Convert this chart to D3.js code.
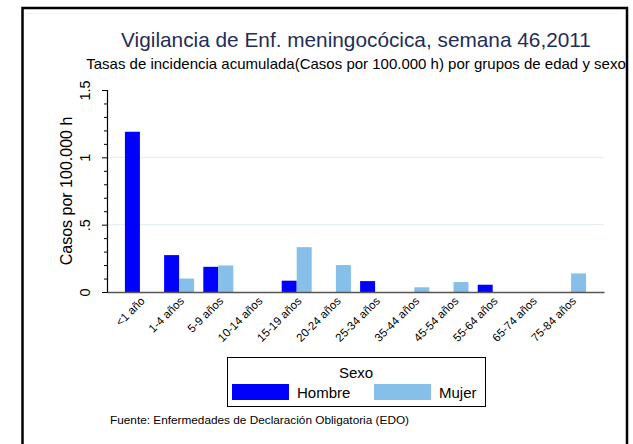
<!DOCTYPE html>
<html>
<head>
<meta charset="utf-8">
<script src="https://cdn.jsdelivr.net/npm/d3@7"></script>
<style>
  body { margin: 0; background: #fff; }
  text { font-family: "Liberation Sans", Arial, sans-serif; }
</style>
</head>
<body>
<div id="chart"></div>
<script>
// age groups and rates (cases per 100.000 h)
const grupos = ['<1 año', '1-4 años', '5-9 años', '10-14 años', '15-19 años', '20-24 años',
  '25-34 años', '35-44 años', '45-54 años', '55-64 años', '65-74 años', '75-84 años'];
const sexos = ['Hombre', 'Mujer'];
const hombre = [1.19, 0.274, 0.187, 0, 0.084, 0, 0.081, 0, 0, 0.054, 0, 0];
const mujer = [0, 0.10, 0.197, 0, 0.333, 0.20, 0, 0.035, 0.074, 0, 0, 0.138];
const yTicks = [0, 0.5, 1, 1.5];
const yTickLabels = ['0', '.5', '1', '1.5'];
const colores = { Hombre: '#0000ff', Mujer: '#86c0ea' };

const W = 633, H = 444;
const margin = { top: 90, right: 29, bottom: 152, left: 107 };
const width = W - margin.left - margin.right;
const height = H - margin.top - margin.bottom;

const svg = d3.select('#chart').append('svg')
  .attr('width', W)
  .attr('height', H);

// outer frame (bottom edge falls outside the picture)
svg.append('rect')
  .attr('x', 22.5).attr('y', 8)
  .attr('width', 604.5).attr('height', 450)
  .attr('fill', 'none').attr('stroke', '#000').attr('stroke-width', 2.5);
svg.append('line')
  .attr('x1', 27).attr('x2', 618).attr('y1', 13.5).attr('y2', 13.5)
  .attr('stroke', '#eef2f4').attr('stroke-width', 1);

svg.append('text')
  .attr('x', 356).attr('y', 47)
  .attr('text-anchor', 'middle')
  .attr('fill', '#1f2d57')
  .style('font-size', '20.8px')
  .text('Vigilancia de Enf. meningocócica, semana 46,2011');

svg.append('text')
  .attr('x', 356).attr('y', 69)
  .attr('text-anchor', 'middle')
  .attr('fill', '#000')
  .style('font-size', '15px')
  .text('Tasas de incidencia acumulada(Casos por 100.000 h) por grupos de edad y sexo');

const g = svg.append('g')
  .attr('transform', 'translate(' + margin.left + ',' + margin.top + ')');

const x0 = d3.scaleBand().domain(grupos).range([0, width])
  .paddingInner(0.235).paddingOuter(0.457);
const x1 = d3.scaleBand().domain(sexos).range([0, x0.bandwidth()]);
const y = d3.scaleLinear().domain([0, 1.5]).range([height, 0]);

// grid lines
g.selectAll('.grid')
  .data([0.5, 1])
  .enter().append('line')
  .attr('x1', 0).attr('x2', width)
  .attr('y1', d => y(d)).attr('y2', d => y(d))
  .attr('stroke', '#e6eff3').attr('stroke-width', 1.2);

// y axis: major and minor ticks
const yAxis = g.append('g')
  .call(d3.axisLeft(y).tickValues(yTicks).tickSize(5)
    .tickFormat((d, i) => yTickLabels[i]));
yAxis.select('.domain').attr('stroke', '#000').attr('stroke-width', 1.2);
yAxis.selectAll('.tick line').attr('stroke', '#000');
yAxis.selectAll('.tick text')
  .attr('transform', 'rotate(-90)')
  .attr('x', 0).attr('y', -17).attr('dy', 0)
  .attr('text-anchor', 'middle')
  .style('font-size', '14.5px').attr('fill', '#000');
g.append('g')
  .call(d3.axisLeft(y).tickValues(d3.range(0, 15).map(i => i / 10)
    .filter(v => Math.round(v * 10) % 5 !== 0)).tickSize(3).tickFormat(''))
  .call(a => a.select('.domain').remove())
  .selectAll('.tick line').attr('stroke', '#000');

svg.append('text')
  .attr('transform', 'translate(72,' + (margin.top + height / 2) + ') rotate(-90)')
  .attr('text-anchor', 'middle')
  .style('font-size', '16px')
  .text('Casos por 100.000 h');

// bars
const filas = grupos.map((gr, i) => ({ grupo: gr, Hombre: hombre[i], Mujer: mujer[i] }));
const grp = g.selectAll('.grupo')
  .data(filas)
  .enter().append('g')
  .attr('transform', d => 'translate(' + x0(d.grupo) + ',0)');
grp.selectAll('rect')
  .data(d => sexos.map(s => ({ sexo: s, valor: d[s] })).filter(e => e.valor > 0))
  .enter().append('rect')
  .attr('x', d => x1(d.sexo))
  .attr('y', d => y(d.valor))
  .attr('width', x1.bandwidth())
  .attr('height', d => y(0) - y(d.valor))
  .attr('fill', d => colores[d.sexo]);

// x axis
const xAxis = g.append('g')
  .attr('transform', 'translate(0,' + height + ')')
  .call(d3.axisBottom(x0).tickSize(0));
xAxis.select('.domain').attr('stroke', '#555').attr('stroke-width', 1.6);
xAxis.selectAll('.tick text')
  .attr('text-anchor', 'end')
  .attr('transform', 'translate(0,4) rotate(-45)')
  .attr('x', 0).attr('y', 0).attr('dy', '0.7em')
  .style('font-size', '11.5px').attr('fill', '#000');

// legend
const leg = svg.append('g');
leg.append('rect')
  .attr('x', 227.5).attr('y', 357.5).attr('width', 258).attr('height', 49)
  .attr('fill', '#fff').attr('stroke', '#000').attr('stroke-width', 1);
leg.append('text')
  .attr('x', 356).attr('y', 378)
  .attr('text-anchor', 'middle').style('font-size', '15px')
  .text('Sexo');
const legX = { Hombre: 232, Mujer: 374 };
sexos.forEach(s => {
  leg.append('rect')
    .attr('x', legX[s]).attr('y', 384).attr('width', 57).attr('height', 16)
    .attr('fill', colores[s]);
  leg.append('text')
    .attr('x', legX[s] + 65).attr('y', 398)
    .style('font-size', '15px')
    .text(s);
});

svg.append('text')
  .attr('x', 110).attr('y', 424)
  .style('font-size', '11.8px')
  .text('Fuente: Enfermedades de Declaración Obligatoria (EDO)');
</script>
</body>
</html>
